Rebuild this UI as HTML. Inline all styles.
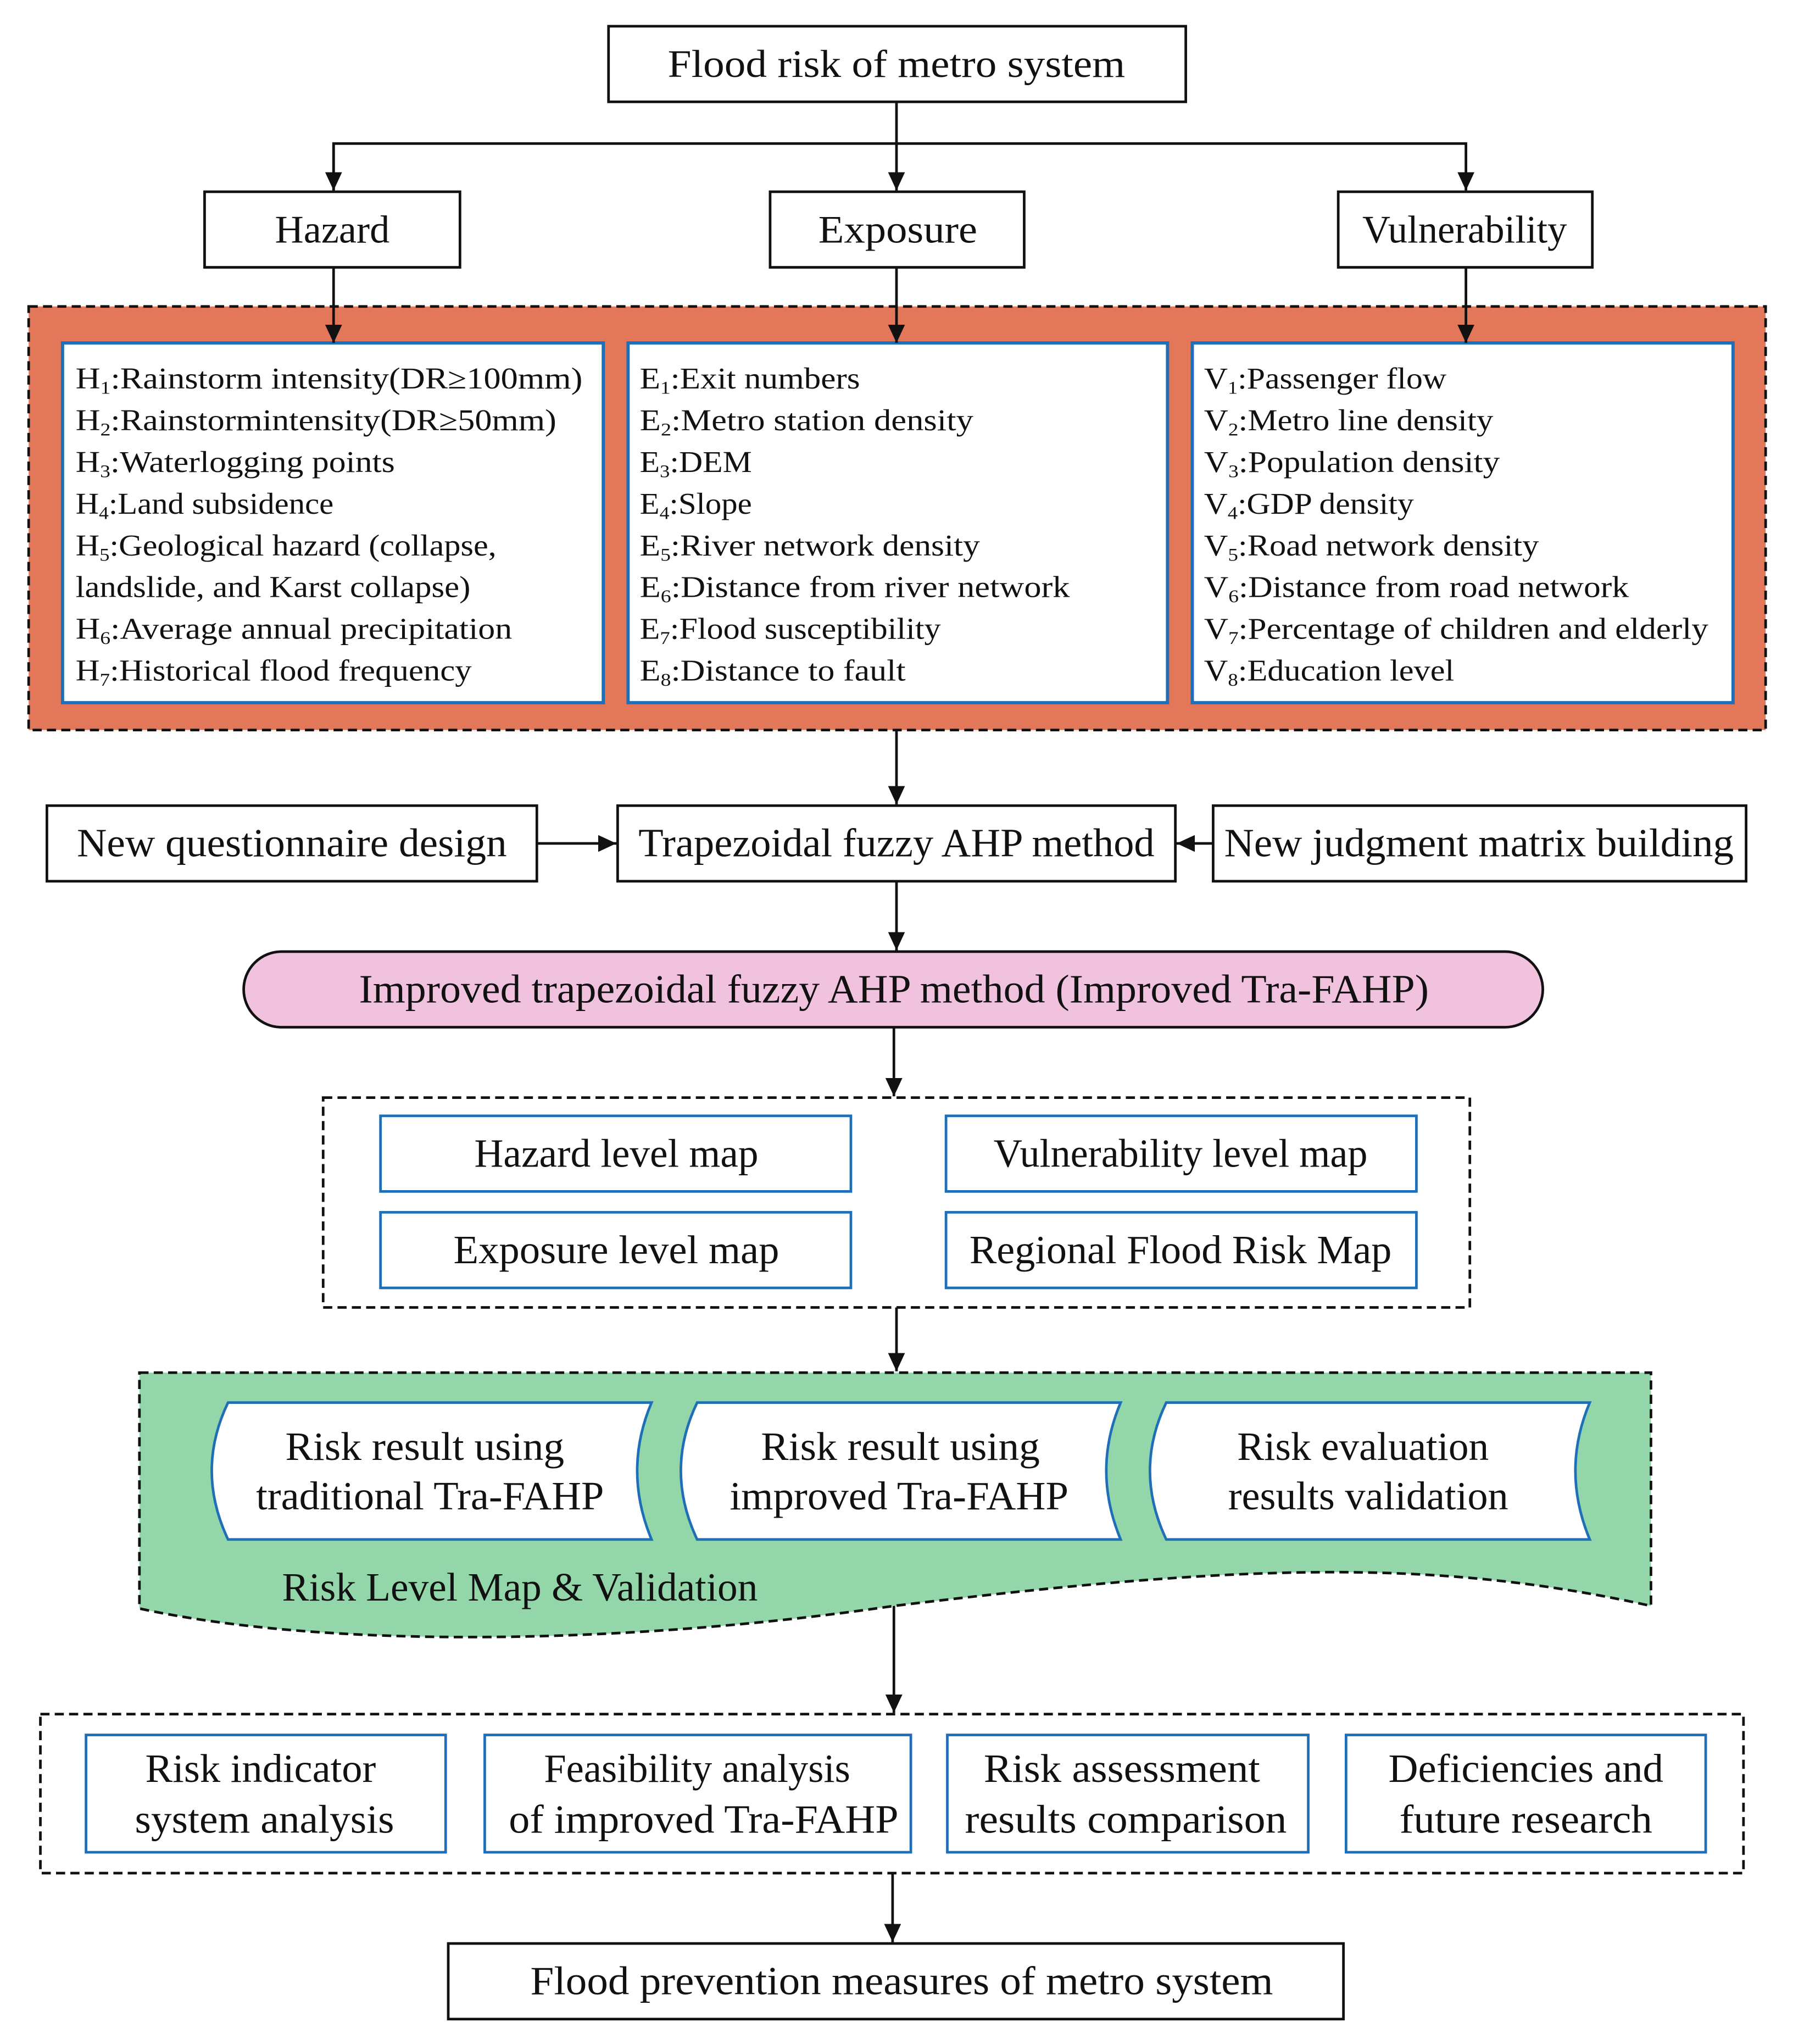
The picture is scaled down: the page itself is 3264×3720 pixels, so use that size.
<!DOCTYPE html>
<html><head><meta charset="utf-8"><style>html,body{margin:0;padding:0;background:#fff}svg{display:block}</style></head>
<body>
<svg xmlns="http://www.w3.org/2000/svg" width="3264" height="3720" viewBox="0 0 1376 1568">
<defs>
<marker id="b" markerWidth="14" markerHeight="16" refX="14" refY="8" orient="auto" markerUnits="userSpaceOnUse"><path d="M0,1.5 L14,8 L0,14.5 Z" fill="#111"/></marker>
</defs>
<rect width="1376" height="1568" fill="#fff"/>
<g font-family="Liberation Serif, serif" fill="#111" text-anchor="middle">
<rect x="467" y="20" width="443" height="58" fill="#fff" stroke="#111" stroke-width="2"/>
<text x="688" y="59" font-size="30" textLength="351" lengthAdjust="spacingAndGlyphs">Flood risk of metro system</text>
<g stroke="#111" stroke-width="2" fill="none" marker-end="url(#b)">
<line x1="688" y1="78" x2="688" y2="146"/>
<polyline points="256,146 256,110 1125,110 1125,146"/>
<line x1="256" y1="110" x2="256" y2="146"/>
</g>
<rect x="157" y="147" width="196" height="58" fill="#fff" stroke="#111" stroke-width="2"/>
<text x="255" y="186" font-size="30" textLength="88" lengthAdjust="spacingAndGlyphs">Hazard</text>
<rect x="591" y="147" width="195" height="58" fill="#fff" stroke="#111" stroke-width="2"/>
<text x="689" y="186" font-size="30" textLength="122" lengthAdjust="spacingAndGlyphs">Exposure</text>
<rect x="1027" y="147" width="195" height="58" fill="#fff" stroke="#111" stroke-width="2"/>
<text x="1124" y="186" font-size="30" textLength="157" lengthAdjust="spacingAndGlyphs">Vulnerability</text>
<rect x="22" y="235" width="1333" height="325" fill="#E2775A" stroke="#111" stroke-width="2" stroke-dasharray="7,4"/>
<rect x="48" y="263" width="415" height="276" fill="#fff" stroke="#1E6FB8" stroke-width="2.5"/>
<rect x="482" y="263" width="414" height="276" fill="#fff" stroke="#1E6FB8" stroke-width="2.5"/>
<rect x="915" y="263" width="415" height="276" fill="#fff" stroke="#1E6FB8" stroke-width="2.5"/>
<g stroke="#111" stroke-width="2" marker-end="url(#b)">
<line x1="256" y1="205" x2="256" y2="263"/>
<line x1="688" y1="205" x2="688" y2="263"/>
<line x1="1125" y1="205" x2="1125" y2="263"/>
</g>
<g text-anchor="start" font-size="23">
<text x="58" y="298" textLength="389" lengthAdjust="spacingAndGlyphs">H<tspan font-size="14" dy="4">1</tspan><tspan dy="-4">:Rainstorm intensity(DR≥100mm)</tspan></text>
<text x="58" y="330" textLength="369" lengthAdjust="spacingAndGlyphs">H<tspan font-size="14" dy="4">2</tspan><tspan dy="-4">:Rainstormintensity(DR≥50mm)</tspan></text>
<text x="58" y="362" textLength="245" lengthAdjust="spacingAndGlyphs">H<tspan font-size="14" dy="4">3</tspan><tspan dy="-4">:Waterlogging points</tspan></text>
<text x="58" y="394" textLength="198" lengthAdjust="spacingAndGlyphs">H<tspan font-size="14" dy="4">4</tspan><tspan dy="-4">:Land subsidence</tspan></text>
<text x="58" y="426" textLength="323" lengthAdjust="spacingAndGlyphs">H<tspan font-size="14" dy="4">5</tspan><tspan dy="-4">:Geological hazard (collapse,</tspan></text>
<text x="58" y="458" textLength="303" lengthAdjust="spacingAndGlyphs">landslide, and Karst collapse)</text>
<text x="58" y="490" textLength="335" lengthAdjust="spacingAndGlyphs">H<tspan font-size="14" dy="4">6</tspan><tspan dy="-4">:Average annual precipitation</tspan></text>
<text x="58" y="522" textLength="304" lengthAdjust="spacingAndGlyphs">H<tspan font-size="14" dy="4">7</tspan><tspan dy="-4">:Historical flood frequency</tspan></text>

<text x="491" y="298" textLength="169" lengthAdjust="spacingAndGlyphs">E<tspan font-size="14" dy="4">1</tspan><tspan dy="-4">:Exit numbers</tspan></text>
<text x="491" y="330" textLength="256" lengthAdjust="spacingAndGlyphs">E<tspan font-size="14" dy="4">2</tspan><tspan dy="-4">:Metro station density</tspan></text>
<text x="491" y="362" textLength="86" lengthAdjust="spacingAndGlyphs">E<tspan font-size="14" dy="4">3</tspan><tspan dy="-4">:DEM</tspan></text>
<text x="491" y="394" textLength="86" lengthAdjust="spacingAndGlyphs">E<tspan font-size="14" dy="4">4</tspan><tspan dy="-4">:Slope</tspan></text>
<text x="491" y="426" textLength="261" lengthAdjust="spacingAndGlyphs">E<tspan font-size="14" dy="4">5</tspan><tspan dy="-4">:River network density</tspan></text>
<text x="491" y="458" textLength="330" lengthAdjust="spacingAndGlyphs">E<tspan font-size="14" dy="4">6</tspan><tspan dy="-4">:Distance from river network</tspan></text>
<text x="491" y="490" textLength="231" lengthAdjust="spacingAndGlyphs">E<tspan font-size="14" dy="4">7</tspan><tspan dy="-4">:Flood susceptibility</tspan></text>
<text x="491" y="522" textLength="204" lengthAdjust="spacingAndGlyphs">E<tspan font-size="14" dy="4">8</tspan><tspan dy="-4">:Distance to fault</tspan></text>

<text x="924" y="298" textLength="186" lengthAdjust="spacingAndGlyphs">V<tspan font-size="14" dy="4">1</tspan><tspan dy="-4">:Passenger flow</tspan></text>
<text x="924" y="330" textLength="222" lengthAdjust="spacingAndGlyphs">V<tspan font-size="14" dy="4">2</tspan><tspan dy="-4">:Metro line density</tspan></text>
<text x="924" y="362" textLength="227" lengthAdjust="spacingAndGlyphs">V<tspan font-size="14" dy="4">3</tspan><tspan dy="-4">:Population density</tspan></text>
<text x="924" y="394" textLength="161" lengthAdjust="spacingAndGlyphs">V<tspan font-size="14" dy="4">4</tspan><tspan dy="-4">:GDP density</tspan></text>
<text x="924" y="426" textLength="257" lengthAdjust="spacingAndGlyphs">V<tspan font-size="14" dy="4">5</tspan><tspan dy="-4">:Road network density</tspan></text>
<text x="924" y="458" textLength="326" lengthAdjust="spacingAndGlyphs">V<tspan font-size="14" dy="4">6</tspan><tspan dy="-4">:Distance from road network</tspan></text>
<text x="924" y="490" textLength="387" lengthAdjust="spacingAndGlyphs">V<tspan font-size="14" dy="4">7</tspan><tspan dy="-4">:Percentage of children and elderly</tspan></text>
<text x="924" y="522" textLength="192" lengthAdjust="spacingAndGlyphs">V<tspan font-size="14" dy="4">8</tspan><tspan dy="-4">:Education level</tspan></text>
</g>
<g stroke="#111" stroke-width="2" marker-end="url(#b)">
<line x1="688" y1="560" x2="688" y2="617"/>
<line x1="412" y1="647" x2="473" y2="647"/>
<line x1="931" y1="647" x2="903" y2="647"/>
<line x1="688" y1="676" x2="688" y2="729"/>
<line x1="686" y1="788" x2="686" y2="841"/>
<line x1="688" y1="1003" x2="688" y2="1052"/>
<line x1="686" y1="1230" x2="686" y2="1314"/>
<line x1="685" y1="1437" x2="685" y2="1490"/>
</g>
<rect x="36" y="618" width="376" height="58" fill="#fff" stroke="#111" stroke-width="2"/>
<text x="224" y="657" font-size="31" textLength="330" lengthAdjust="spacingAndGlyphs">New questionnaire design</text>
<rect x="474" y="618" width="428" height="58" fill="#fff" stroke="#111" stroke-width="2"/>
<text x="688" y="657" font-size="31" textLength="396" lengthAdjust="spacingAndGlyphs">Trapezoidal fuzzy AHP method</text>
<rect x="931" y="618" width="409" height="58" fill="#fff" stroke="#111" stroke-width="2"/>
<text x="1135" y="657" font-size="31" textLength="391" lengthAdjust="spacingAndGlyphs">New judgment matrix building</text>
<rect x="187" y="730" width="997" height="58" rx="29" ry="29" fill="#F0C2DD" stroke="#111" stroke-width="2"/>
<text x="686" y="769" font-size="31" textLength="821" lengthAdjust="spacingAndGlyphs">Improved trapezoidal fuzzy AHP method (Improved Tra-FAHP)</text>
<rect x="248" y="842" width="880" height="161" fill="#fff" stroke="#111" stroke-width="2" stroke-dasharray="7,4"/>
<g fill="#fff" stroke="#1E6FB8" stroke-width="2">
<rect x="292" y="856" width="361" height="58"/>
<rect x="726" y="856" width="361" height="58"/>
<rect x="292" y="930" width="361" height="58"/>
<rect x="726" y="930" width="361" height="58"/>
</g>
<text x="473" y="895" font-size="31" textLength="218" lengthAdjust="spacingAndGlyphs">Hazard level map</text>
<text x="906" y="895" font-size="31" textLength="287" lengthAdjust="spacingAndGlyphs">Vulnerability level map</text>
<text x="473" y="969" font-size="31" textLength="250" lengthAdjust="spacingAndGlyphs">Exposure level map</text>
<text x="906" y="969" font-size="31" textLength="324" lengthAdjust="spacingAndGlyphs">Regional Flood Risk Map</text>
<path d="M107,1053 L1267,1053 L1267,1232 C1100,1195 950,1200 686,1232 C480,1262 250,1265 107,1234 Z" fill="#92D6A9" stroke="#111" stroke-width="2" stroke-dasharray="7,4"/>
<g fill="#fff" stroke="#1E6FB8" stroke-width="2">
<path d="M175,1076 L500,1076 Q478,1128 500,1181 L175,1181 Q150,1128 175,1076 Z"/>
<path d="M535,1076 L860,1076 Q838,1128 860,1181 L535,1181 Q510,1128 535,1076 Z"/>
<path d="M895,1076 L1220,1076 Q1198,1128 1220,1181 L895,1181 Q870,1128 895,1076 Z"/>
</g>
<g font-size="31">
<text x="326" y="1120" textLength="214" lengthAdjust="spacingAndGlyphs">Risk result using</text>
<text x="330" y="1158" textLength="267" lengthAdjust="spacingAndGlyphs">traditional Tra-FAHP</text>
<text x="691" y="1120" textLength="214" lengthAdjust="spacingAndGlyphs">Risk result using</text>
<text x="690" y="1158" textLength="260" lengthAdjust="spacingAndGlyphs">improved Tra-FAHP</text>
<text x="1046" y="1120" textLength="193" lengthAdjust="spacingAndGlyphs">Risk evaluation</text>
<text x="1050" y="1158" textLength="215" lengthAdjust="spacingAndGlyphs">results validation</text>
<text x="399" y="1228" textLength="365" lengthAdjust="spacingAndGlyphs">Risk Level Map &amp; Validation</text>
</g>
<rect x="31" y="1315" width="1307" height="122" fill="#fff" stroke="#111" stroke-width="2" stroke-dasharray="7,4"/>
<g fill="#fff" stroke="#1E6FB8" stroke-width="2">
<rect x="66" y="1331" width="276" height="90"/>
<rect x="372" y="1331" width="327" height="90"/>
<rect x="727" y="1331" width="277" height="90"/>
<rect x="1033" y="1331" width="276" height="90"/>
</g>
<g font-size="31">
<text x="200" y="1367" textLength="177" lengthAdjust="spacingAndGlyphs">Risk indicator</text>
<text x="203" y="1406" textLength="199" lengthAdjust="spacingAndGlyphs">system analysis</text>
<text x="535" y="1367" textLength="235" lengthAdjust="spacingAndGlyphs">Feasibility analysis</text>
<text x="540" y="1406" textLength="299" lengthAdjust="spacingAndGlyphs">of improved Tra-FAHP</text>
<text x="861" y="1367" textLength="212" lengthAdjust="spacingAndGlyphs">Risk assessment</text>
<text x="864" y="1406" textLength="247" lengthAdjust="spacingAndGlyphs">results comparison</text>
<text x="1171" y="1367" textLength="211" lengthAdjust="spacingAndGlyphs">Deficiencies and</text>
<text x="1171" y="1406" textLength="194" lengthAdjust="spacingAndGlyphs">future research</text>
</g>
<rect x="344" y="1491" width="687" height="58" fill="#fff" stroke="#111" stroke-width="2"/>
<text x="692" y="1530" font-size="31" textLength="570" lengthAdjust="spacingAndGlyphs">Flood prevention measures of metro system</text>
</g>
</svg>
</body></html>
